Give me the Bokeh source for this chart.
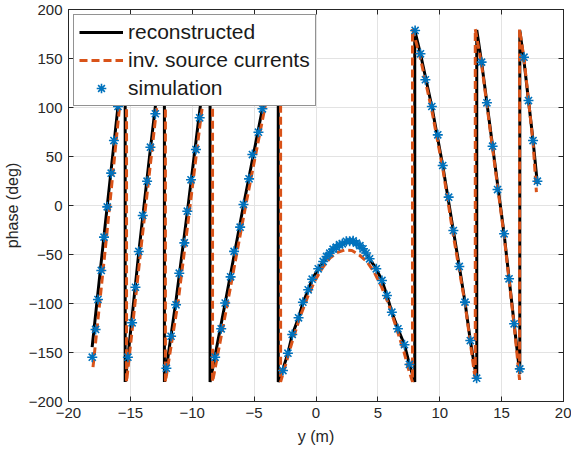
from bokeh.plotting import figure
from bokeh.models import Range1d, LinearAxis, FixedTicker, Legend, LegendItem
from bokeh.embed import file_html
from bokeh.resources import INLINE

# ---------------- data ----------------
# reconstructed phase (black solid), wrapped to +/-180 deg
rec_y_m = [-18.09, -17.13, -16.0, -15.42,
           -15.42, -15.2, -14.32, -13.38, -12.25,
           -12.25, -11.31, -10.40, -9.48, -8.56,
           -8.56, -7.34, -5.86, -4.33, -3.05,
           -3.05, -2.67, -2.27, -1.92, -1.41, -1.06, -0.63, -0.31, 0.18, 0.58, 1.11, 1.65,
           2.13, 2.72, 3.26, 3.8, 4.33, 4.87, 5.33, 5.73, 6.13, 6.62, 7.15, 7.55, 7.98,
           7.98, 8.44, 9.36, 10.24, 11.05, 11.58, 12.04, 12.47, 12.99,
           12.99, 13.38, 14.27, 15.2, 16.01, 16.47,
           16.47, 16.81, 17.17, 17.54, 17.89]
rec_phase = [-144.6, -31.0, 101.0, 180.0,
             -180.0, -154.8, -48.0, 58.0, 180.0,
             -180.0, -97.0, -7.0, 88.0, 180.0,
             -180.0, -99.5, 0.0, 98.7, 180.0,
             -180.0, -167.0, -150.7, -132.0, -114.6, -99.5, -86.0, -75.5, -64.6, -57.1, -48.6, -42.5,
             -39.1, -37.0, -38.6, -44.2, -54.4, -64.6, -76.5, -91.8, -108.9, -125.8, -142.1, -162.2, -180.0,
             178.6, 154.8, 101.0, 40.8, -22.0, -62.2, -98.6, -137.8, -178.0,
             179.0, 146.3, 60.5, -28.9, -120.7, -172.0,
             178.6, 147.0, 107.1, 66.3, 22.0]

# phase from inverse source currents (orange dashed)
inv_y_m = [-18.02, -16.95, -15.88, -15.31,
           -15.31, -14.2, -13.25, -12.17,
           -12.17, -11.15, -10.25, -9.32, -8.36,
           -8.36, -7.15, -5.68, -4.15, -2.86,
           -2.86, -2.4, -1.9, -1.3, -0.7, -0.1, 0.5, 1.1, 1.7, 2.3, 2.9, 3.5, 4.1, 4.7,
           5.3, 5.9, 6.5, 7.1, 7.5, 7.8,
           7.8, 8.44, 9.36, 10.24, 11.05, 12.04, 12.47, 12.87,
           12.87, 13.38, 14.27, 15.2, 16.01, 16.45,
           16.45, 16.81, 17.54, 17.81]
inv_phase = [-165.0, -35.0, 100.0, 180.0,
             -180.0, -50.0, 57.0, 180.0,
             -180.0, -99.0, -8.0, 88.0, 180.0,
             -180.0, -99.5, 0.0, 98.7, 180.0,
             -180.0, -160.0, -138.0, -114.0, -94.0, -77.0, -64.0, -54.0, -48.0, -45.5, -46.0, -50.5, -57.0, -68.0,
             -83.0, -102.0, -125.0, -149.0, -168.0, -180.0,
             180.0, 150.0, 97.0, 38.0, -27.0, -100.0, -140.0, -178.0,
             180.0, 144.0, 58.0, -31.0, -122.0, -178.0,
             180.0, 150.0, 64.0, 13.6]

# simulation (blue asterisks)
sim_y_m = [-18.08, -17.81, -17.62, -17.35, -17.13, -16.87, -16.55, -16.33, -16.0,
           -15.2, -14.86, -14.59, -14.32, -14.0, -13.65, -13.38, -12.98,
           -12.09, -11.71, -11.31, -11.05, -10.64, -10.40, -10.10, -9.70, -9.40,
           -8.15, -7.66, -7.34, -6.9, -6.62, -6.13, -5.86, -5.41, -5.14, -4.65, -4.33,
           -2.67, -2.27, -1.92, -1.41, -1.06, -0.63, -0.31, 0.18, 0.58, 0.85, 1.11, 1.38, 1.65, 1.9, 2.13,
           2.45, 2.72, 3.0, 3.26, 3.55, 3.8, 4.05, 4.33, 4.87, 5.33, 5.73, 6.13, 6.62, 7.15, 7.55,
           8.01, 8.44, 8.84, 9.36, 9.84, 10.24, 10.72, 11.1, 11.58, 12.04, 12.47, 12.98,
           13.38, 13.81, 14.27, 14.67, 15.2, 15.6, 16.01, 16.47,
           16.81, 17.17, 17.54, 17.89]
sim_phase = [-154.8, -126.5, -95.9, -66.3, -32.3, -1.4, 33.0, 66.3, 101.0,
             -154.8, -119.7, -83.4, -46.9, -10.2, 24.8, 59.5, 93.6,
             -166.0, -133.4, -101.3, -69.1, -38.1, -5.8, 26.2, 57.1, 89.5,
             -154.8, -125.8, -99.5, -72.8, -46.8, -22.1, 1.0, 27.2, 52.0, 74.8, 98.7,
             -168.4, -150.7, -131.6, -114.6, -98.7, -86.0, -75.2, -64.6, -57.1, -52.0, -48.6, -44.5, -42.5, -40.0, -39.1,
             -36.5, -36.4, -36.0, -38.4, -41.0, -44.2, -48.5, -54.4, -64.6, -76.5, -91.8, -108.9, -125.8, -142.1, -162.2,
             178.6, 154.8, 128.3, 101.0, 72.1, 40.8, 8.5, -25.5, -62.2, -98.6, -137.8, -176.2,
             146.3, 104.8, 60.5, 16.3, -28.9, -74.8, -120.7, -166.7,
             151.3, 107.1, 66.3, 24.8]

x_ticks = [-20, -15, -10, -5, 0, 5, 10, 15, 20]
y_ticks = [-200, -150, -100, -50, 0, 50, 100, 150, 200]

# ---------------- figure ----------------
FONT = "Liberation Sans"
AX = "#262626"

p = figure(width=571, height=454, x_range=Range1d(-20, 20), y_range=Range1d(-200, 200),
           output_backend="svg", toolbar_location=None,
           min_border_left=66, min_border_right=8, min_border_top=9, min_border_bottom=53)
p.background_fill_color = "white"
p.border_fill_color = "white"
p.outline_line_color = AX
p.outline_line_width = 1

p.xaxis.ticker = FixedTicker(ticks=x_ticks)
p.yaxis.ticker = FixedTicker(ticks=y_ticks)
p.xgrid.ticker = FixedTicker(ticks=x_ticks)
p.ygrid.ticker = FixedTicker(ticks=y_ticks)
p.grid.grid_line_color = "#E3E3E3"
p.grid.grid_line_width = 1

for ax in (p.xaxis[0], p.yaxis[0]):
    ax.axis_line_color = AX
    ax.major_tick_line_color = AX
    ax.major_tick_in = 5
    ax.major_tick_out = 0
    ax.minor_tick_line_color = None
    ax.major_label_text_font = FONT
    ax.major_label_text_font_size = "15px"
    ax.major_label_text_color = AX
    ax.axis_label_text_font = FONT
    ax.axis_label_text_font_size = "16px"
    ax.axis_label_text_font_style = "normal"
    ax.axis_label_text_color = AX
    ax.major_label_standoff = 6

p.xaxis.axis_label = "y (m)"
p.xaxis.axis_label_standoff = 7
p.yaxis.axis_label = "phase (deg)"
p.yaxis.axis_label_standoff = 5

# box ticks on top and right (no labels)
for loc, ticks in (("above", x_ticks), ("right", y_ticks)):
    ax = LinearAxis(ticker=FixedTicker(ticks=ticks))
    ax.axis_line_color = AX
    ax.major_tick_line_color = AX
    ax.major_tick_in = 5
    ax.major_tick_out = 0
    ax.minor_tick_line_color = None
    ax.major_label_text_font_size = "1px"
    ax.major_label_text_color = None
    ax.major_label_standoff = 0
    p.add_layout(ax, loc)

r_rec = p.line(rec_y_m, rec_phase, line_color="black", line_width=3)
r_inv = p.line(inv_y_m, inv_phase, line_color="#D95319", line_width=3, line_dash="8 4")
r_sim = p.scatter(sim_y_m, sim_phase, marker="asterisk", size=10,
                  line_color="#0072BD", line_width=1.6)

legend = Legend(items=[LegendItem(label="reconstructed", renderers=[r_rec]),
                       LegendItem(label="inv. source currents", renderers=[r_inv]),
                       LegendItem(label="simulation", renderers=[r_sim])],
                location="top_left")
legend.margin = 5
legend.padding = 5
legend.spacing = 4
legend.glyph_width = 44
legend.glyph_height = 24
legend.label_height = 24
legend.label_standoff = 5
legend.label_text_font = FONT
legend.label_text_font_size = "21px"
legend.label_text_color = "#1a1a1a"
legend.border_line_color = AX
legend.border_line_width = 1
legend.background_fill_color = "white"
legend.background_fill_alpha = 1.0
p.add_layout(legend)

open("out.html", "w").write(file_html(p, INLINE))
